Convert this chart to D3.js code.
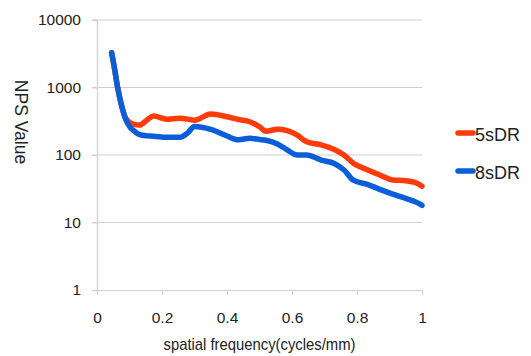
<!DOCTYPE html>
<html>
<head>
<meta charset="utf-8">
<script src="https://cdn.jsdelivr.net/npm/d3@7"></script>
<style>
  body { margin: 0; background: #fff; }
  text { font-family: "Liberation Sans", Arial, sans-serif; fill: #222; }
</style>
</head>
<body>
<svg id="chart"></svg>
<script>
// spatial frequency (cycles/mm) shared by both series
const freq = [0.045, 0.053, 0.063, 0.074, 0.087, 0.102, 0.113, 0.131, 0.154, 0.174,
  0.215, 0.255, 0.28, 0.30, 0.35, 0.40, 0.435, 0.47, 0.50, 0.52,
  0.555, 0.585, 0.615, 0.645, 0.69, 0.73, 0.76, 0.79, 0.83, 0.87,
  0.91, 0.95, 0.985, 1.0];
const nps5 = [3280, 2033, 1028, 583, 360, 300, 285, 278, 330, 378,
  338, 350, 340, 328, 405, 369, 335, 311, 262, 225,
  240, 229, 198, 157, 141, 121, 100, 75, 61, 50.5,
  42.6, 41.6, 38.1, 34.5];
const nps8 = [3280, 2033, 1028, 583, 350, 257, 230, 200, 192, 190,
  183, 183, 215, 265, 240, 191, 168, 177, 170, 165,
  146, 119, 100, 100, 84, 75, 60, 42, 37, 31,
  26.4, 22.8, 19.7, 18];
const seriesNames = ["5sDR", "8sDR"];
const seriesColors = ["#ff3b0a", "#0a5ed8"];
const xTicks = [0, 0.2, 0.4, 0.6, 0.8, 1];
const yTicks = [1, 10, 100, 1000, 10000];

const W = 531, H = 356;
const margin = { top: 20, right: 109, bottom: 66, left: 97 };
const width = W - margin.left - margin.right,
    height = H - margin.top - margin.bottom;

const svg = d3.select("#chart")
    .attr("width", W)
    .attr("height", H);

const g = svg.append("g")
    .attr("transform", `translate(${margin.left}, ${margin.top})`);

const x = d3.scaleLinear().domain([0, 1]).range([0, width]);
const y = d3.scaleLog().domain([1, 10000]).range([height, 0]);

// gridlines
g.append("g")
    .selectAll("line")
    .data(yTicks.slice(1))
    .join("line")
    .attr("x1", -5).attr("x2", width)
    .attr("y1", d => y(d)).attr("y2", d => y(d))
    .attr("stroke", "#cfcfcf");

// y axis
const yAxis = g.append("g")
    .call(d3.axisLeft(y).tickValues(yTicks).tickFormat(d3.format("d")).tickSize(5).tickPadding(11));
yAxis.select(".domain").attr("stroke", "#d6d6d6").attr("stroke-width", 1.5);
yAxis.selectAll(".tick line").attr("stroke", "#cfcfcf");
yAxis.selectAll("text").style("font-size", "15.5px").attr("fill", "#222");

// x axis
const xAxis = g.append("g")
    .attr("transform", `translate(0, ${height})`)
    .call(d3.axisBottom(x).tickValues(xTicks).tickFormat(d => d).tickSize(5).tickPadding(17).tickSizeOuter(0));
xAxis.select(".domain").attr("stroke", "#cfcfcf");
xAxis.selectAll(".tick line").attr("stroke", "#cfcfcf");
xAxis.selectAll("text").style("font-size", "15.5px").attr("fill", "#222");

// axis titles
g.append("text")
    .attr("x", width / 2)
    .attr("y", height + 60)
    .attr("text-anchor", "middle")
    .attr("textLength", 192)
    .attr("lengthAdjust", "spacingAndGlyphs")
    .style("font-size", "17px")
    .text("spatial frequency(cycles/mm)");

svg.append("text")
    .attr("transform", "translate(15, 122) rotate(90)")
    .attr("text-anchor", "middle")
    .style("font-size", "17.5px")
    .text("NPS Value");

// lines
const line = d3.line()
    .x(d => x(d[0]))
    .y(d => y(d[1]))
    .curve(d3.curveMonotoneX);

[nps5, nps8].forEach((vals, i) => {
    g.append("path")
        .datum(freq.map((f, j) => [f, vals[j]]))
        .attr("fill", "none")
        .attr("stroke", seriesColors[i])
        .attr("stroke-width", 5.5)
        .attr("stroke-linecap", "round")
        .attr("stroke-linejoin", "round")
        .attr("d", line);
});

// legend
const legend = svg.append("g").attr("transform", "translate(456, 133)");
seriesNames.forEach((name, i) => {
    const row = legend.append("g").attr("transform", `translate(0, ${i * 38})`);
    row.append("line")
        .attr("x1", 2).attr("x2", 17)
        .attr("stroke", seriesColors[i])
        .attr("stroke-width", 5.5)
        .attr("stroke-linecap", "round");
    row.append("text")
        .attr("x", 19)
        .attr("y", 8)
        .style("font-size", "18px")
        .text(name);
});
</script>
</body>
</html>
